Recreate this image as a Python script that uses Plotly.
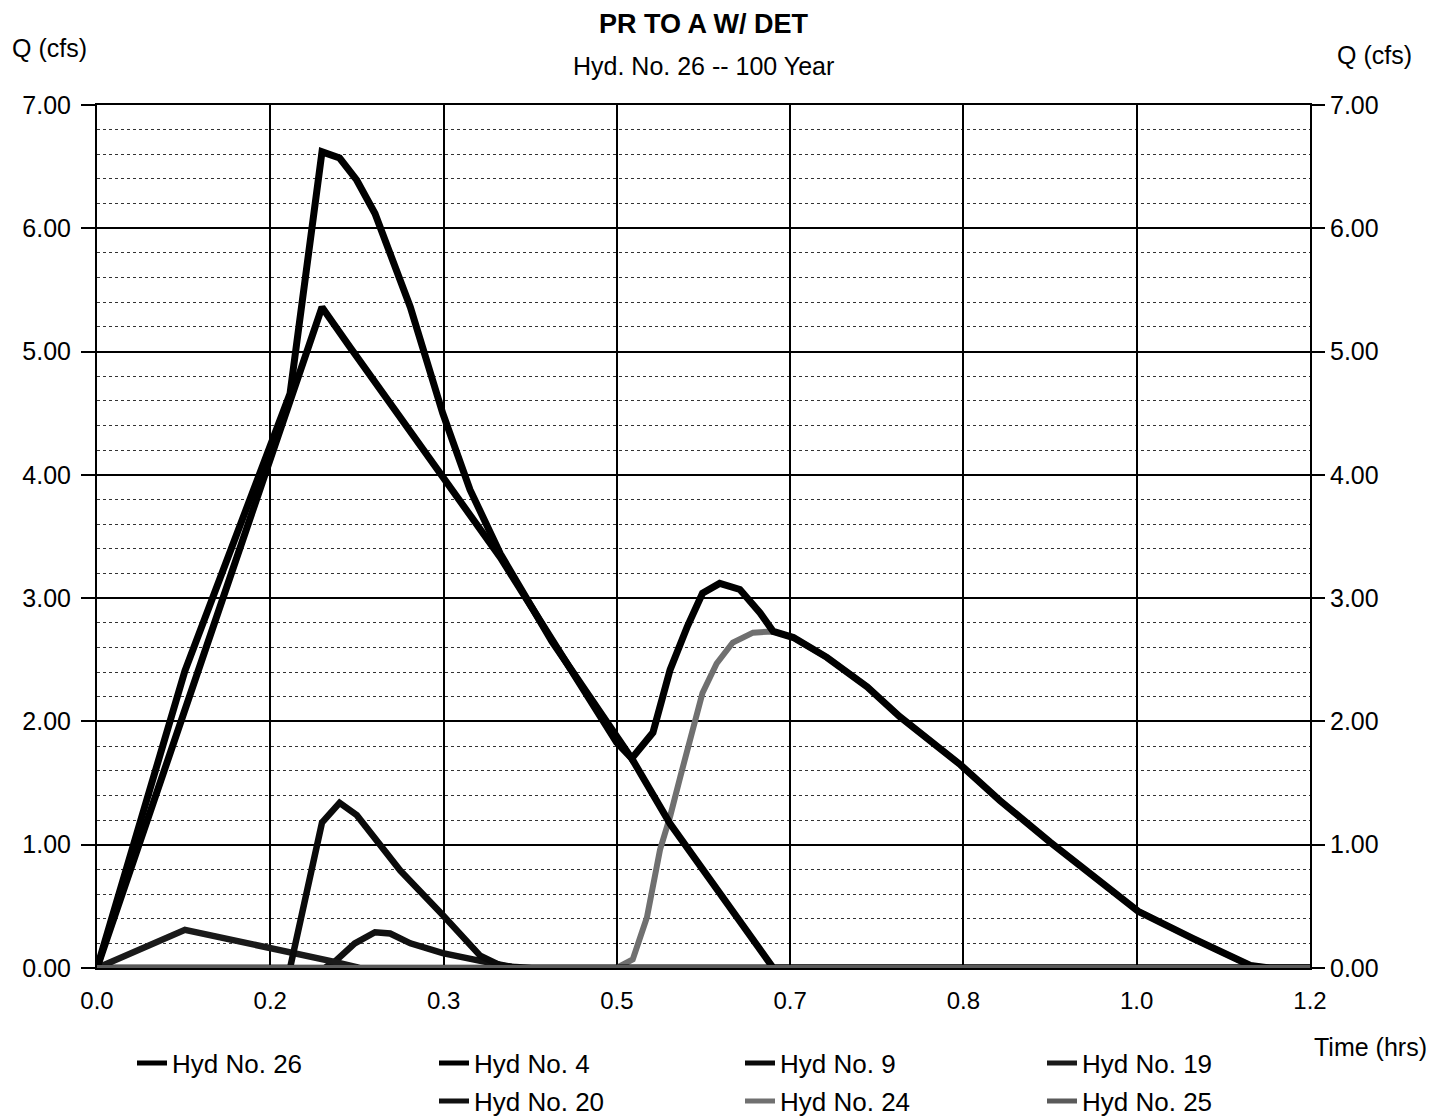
import plotly.graph_objects as go

# ---- data ----
x_tick_labels = ["0.0", "0.2", "0.3", "0.5", "0.7", "0.8", "1.0", "1.2"]

hyd26_t = [0, 0.087, 0.191, 0.2226, 0.240, 0.257, 0.275, 0.293, 0.310, 0.323, 0.342, 0.369, 0.399,
           0.45, 0.514, 0.529, 0.550, 0.560, 0.567, 0.584, 0.599, 0.616, 0.636, 0.656, 0.669, 0.689,
           0.722, 0.762, 0.794, 0.854, 0.893, 0.943, 0.975, 1.009, 1.030, 1.084, 1.141, 1.16, 1.2]
hyd26_q = [0, 2.41, 4.66, 6.62, 6.57, 6.39, 6.12, 5.74, 5.36, 5.01, 4.50, 3.88, 3.36,
           2.65, 1.86, 1.70, 1.91, 2.20, 2.42, 2.77, 3.04, 3.12, 3.07, 2.88, 2.73, 2.68,
           2.52, 2.28, 2.04, 1.65, 1.36, 1.02, 0.81, 0.60, 0.46, 0.24, 0.02, 0, 0]

hyd4_t = [0, 0.2226, 0.250, 0.297, 0.399, 0.514, 0.529, 0.567, 0.597, 0.669, 1.2]
hyd4_q = [0, 5.36, 5.04, 4.50, 3.33, 1.83, 1.70, 1.17, 0.82, 0, 0]

hyd9_t = [0, 0.191, 0.2226, 0.240, 0.257, 0.275, 0.300, 0.342, 0.379, 0.399, 0.42, 1.2]
hyd9_q = [0, 0, 1.18, 1.34, 1.24, 1.05, 0.79, 0.43, 0.10, 0.02, 0, 0]

hyd19_t = [0, 0.087, 0.235, 0.26, 1.2]
hyd19_q = [0, 0.31, 0.05, 0, 0]

hyd20_t = [0, 0.225, 0.235, 0.255, 0.275, 0.290, 0.310, 0.342, 0.378, 0.41, 0.43, 1.2]
hyd20_q = [0, 0, 0.05, 0.20, 0.29, 0.28, 0.20, 0.12, 0.06, 0.01, 0, 0]

hyd24_t = [0, 0.514, 0.530, 0.544, 0.557, 0.567, 0.577, 0.589, 0.599, 0.613, 0.629, 0.649, 0.663,
           0.669, 0.689, 0.722, 0.762, 0.794, 0.854, 0.893, 0.943, 0.975, 1.009, 1.030, 1.084,
           1.141, 1.16, 1.2]
hyd24_q = [0, 0, 0.07, 0.41, 0.96, 1.23, 1.55, 1.93, 2.23, 2.47, 2.64, 2.72, 2.73,
           2.73, 2.68, 2.52, 2.28, 2.04, 1.65, 1.36, 1.02, 0.81, 0.60, 0.46, 0.24,
           0.02, 0, 0]

hyd25_t = [0, 1.2]
hyd25_q = [0, 0]

FONT = "Liberation Sans, Arial, Helvetica, sans-serif"

series = [
    # name, t, q, color, width, legend id, yaxis
    ("Hyd No. 25", hyd25_t, hyd25_q, "#5a5a5a", 6, "legend7", "y2"),
    ("Hyd No. 24", hyd24_t, hyd24_q, "#707070", 6, "legend6", "y"),
    ("Hyd No. 20", hyd20_t, hyd20_q, "#111111", 6.5, "legend5", "y"),
    ("Hyd No. 19", hyd19_t, hyd19_q, "#1a1a1a", 6.5, "legend4", "y"),
    ("Hyd No. 9", hyd9_t, hyd9_q, "#0a0a0a", 6.5, "legend3", "y"),
    ("Hyd No. 4", hyd4_t, hyd4_q, "#000000", 7, "legend2", "y"),
    ("Hyd No. 26", hyd26_t, hyd26_q, "#000000", 7, "legend", "y"),
]

fig = go.Figure()
for name, t, q, col, w, lg, ya in series:
    fig.add_trace(go.Scatter(x=t, y=q, mode="lines", name=name, yaxis=ya,
                             line=dict(color=col, width=w), legend=lg))

n = len(x_tick_labels) - 1
tickvals = [1.2 * i / n for i in range(n + 1)]

# page offset: the html body adds an 8px margin
def leg(text_left, py_center):
    return dict(orientation="v", yanchor="middle", xanchor="left",
                x=(text_left - 41 - 97) / 1213, y=(968 - py_center) / 863,
                font=dict(family=FONT, size=26, color="#000"),
                bgcolor="rgba(0,0,0,0)", itemsizing="constant")

row1, row2 = 1063, 1101
fig.update_layout(
    width=1438, height=1109,
    margin=dict(l=89, r=136, t=97, b=149, autoexpand=False),
    paper_bgcolor="white", plot_bgcolor="white",
    font=dict(family=FONT, size=24, color="#000"),
    showlegend=True,
    xaxis=dict(range=[0, 1.2], tickvals=tickvals, ticktext=x_tick_labels,
               showgrid=True, gridcolor="#000", gridwidth=1.5,
               showline=True, linecolor="#000", linewidth=2, mirror=True,
               ticks="outside", ticklen=10, tickcolor="rgba(0,0,0,0)",
               zeroline=False, tickfont=dict(size=24)),
    yaxis=dict(range=[0, 7], dtick=1, tickformat=".2f",
               showgrid=True, gridcolor="#000", gridwidth=1.8,
               showline=True, linecolor="#000", linewidth=2, mirror=True,
               ticks="outside", ticklen=14, tickwidth=1.5, tickcolor="#000",
               ticklabelstandoff=5,
               zeroline=False, tickfont=dict(size=25),
               minor=dict(dtick=0.2, showgrid=True, gridcolor="#333",
                          griddash="dot", gridwidth=1.2)),
    yaxis2=dict(range=[0, 7], dtick=1, tickformat=".2f", overlaying="y",
                side="right", showgrid=False, zeroline=False,
                ticks="outside", ticklen=14, tickwidth=1.5, tickcolor="#000",
                tickfont=dict(size=25), showline=False),
    legend=leg(173, row1),
    legend2=leg(475, row1),
    legend3=leg(781, row1),
    legend4=leg(1083, row1),
    legend5=leg(475, row2),
    legend6=leg(781, row2),
    legend7=leg(1083, row2),
    annotations=[
        dict(text="<b>PR TO A W/ DET</b>", x=0.5, y=1.0, xref="paper", yref="paper",
             yanchor="middle", yshift=81, showarrow=False, font=dict(size=27)),
        dict(text="Hyd. No. 26 -- 100 Year", x=0.5, y=1.0, xref="paper", yref="paper",
             yanchor="middle", yshift=39, showarrow=False, font=dict(size=25)),
        dict(text="Q (cfs)", x=0, y=1.0, xref="paper", yref="paper", xanchor="left",
             yanchor="middle", xshift=-87, yshift=57, showarrow=False, font=dict(size=25)),
        dict(text="Q (cfs)", x=1, y=1.0, xref="paper", yref="paper", xanchor="left",
             yanchor="middle", xshift=25, yshift=50, showarrow=False, font=dict(size=25)),
        dict(text="Time (hrs)", x=1, y=0, xref="paper", yref="paper", xanchor="left",
             yanchor="middle", xshift=2, yshift=-79, showarrow=False, font=dict(size=25)),
    ],
)

fig.write_html("out.html")
